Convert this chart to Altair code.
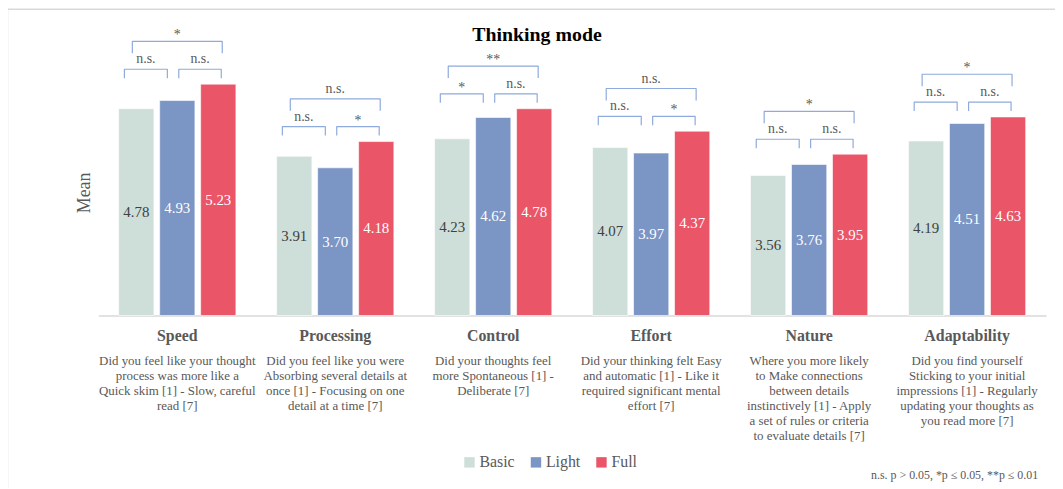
import altair as alt
import pandas as pd

# ---------------- data ----------------
categories = ["Speed", "Processing", "Control", "Effort", "Nature", "Adaptability"]
descriptions = [
    "Did you feel like your thought\nprocess was more like a\nQuick skim [1] - Slow, careful\nread [7]",
    "Did you feel like you were\nAbsorbing several details at\nonce [1] - Focusing on one\ndetail at a time [7]",
    "Did your thoughts feel\nmore Spontaneous [1] -\nDeliberate  [7]",
    "Did your thinking felt Easy\nand automatic [1] - Like it\nrequired significant mental\neffort [7]",
    "Where you more likely\nto Make connections\nbetween details\ninstinctively [1] - Apply\na set of rules or criteria\nto evaluate details [7]",
    "Did you find yourself\nSticking to your initial\nimpressions [1] - Regularly\nupdating your thoughts as\nyou read more [7]",
]
series = ["Basic", "Light", "Full"]
basic = [4.78, 3.91, 4.23, 4.07, 3.56, 4.19]
light = [4.93, 3.70, 4.62, 3.97, 3.76, 4.51]
full = [5.23, 4.18, 4.78, 4.37, 3.95, 4.63]
sig_basic_light = ["n.s.", "n.s.", "*", "n.s.", "n.s.", "n.s."]
sig_light_full = ["n.s.", "*", "n.s.", "*", "n.s.", "n.s."]
sig_basic_full = ["*", "n.s.", "**", "n.s.", "*", "*"]
title_text = "Thinking mode"
y_title = "Mean"
footnote = "n.s. p > 0.05, *p \u2264 0.05, **p \u2264 0.01"

# ---------------- style ----------------
colors = ["#CEDED8", "#7B95C5", "#EA5568"]
FONT = "Liberation Serif"
GRAY = "#595959"
BRACKET = "#8FAADC"
W, H = 955, 248
YMIN, YMAX = 1, 5.5
PPU = H / (YMAX - YMIN)          # pixels per data unit
BAND = W / len(categories)       # pixels per category
PITCH = 41.3 / BAND
HALF = 17.75 / BAND

# ---------------- tables ----------------
values = [basic, light, full]
rows = []
for s, name in enumerate(series):
    for i, c in enumerate(categories):
        v = values[s][i]
        ctr = i + (s - 1) * PITCH
        rows.append(dict(category=c, series=name, value=v, x=ctr - HALF, x2=ctr + HALF,
                         xc=ctr, mid=(v + YMIN) / 2, base=YMIN, label=f"{v:.2f}"))
bars_df = pd.DataFrame(rows)

brows, lrows = [], []
bid = 0
for i in range(len(categories)):
    top = max(basic[i], light[i], full[i])
    small = top + 15 / PPU
    big = small + 28 / PPU
    specs = [
        (0, 1, small, 9, sig_basic_light[i], -12, -10),
        (1, 2, small, 9, sig_light_full[i], 1.5, 3),
        (0, 2, big, 12, sig_basic_full[i], -4, 4),
    ]
    for a, b, lvl, tick, lab, na, nb in specs:
        xa = i + (a - 1) * PITCH + na / BAND
        xb = i + (b - 1) * PITCH + nb / BAND
        low = lvl - tick / PPU
        for k, (px, py) in enumerate([(xa, low), (xa, lvl), (xb, lvl), (xb, low)]):
            brows.append(dict(bid=bid, k=k, x=px, y=py))
        lrows.append(dict(x=(xa + xb) / 2, y=lvl, label=lab, star=lab != "n.s."))
        bid += 1
br_df = pd.DataFrame(brows)
lab_df = pd.DataFrame(lrows)

cat_df = pd.DataFrame(dict(x=list(range(len(categories))), category=categories,
                           desc=descriptions))

xscale = alt.Scale(domain=[-0.5, len(categories) - 0.5], nice=False, zero=False)
yscale = alt.Scale(domain=[YMIN, YMAX], nice=False, zero=False)

xaxis = alt.Axis(labels=False, ticks=False, grid=False, title=None,
                 domainColor="#D9D9D9", domainWidth=1.5)
yaxis = alt.Axis(labels=False, ticks=False, grid=False, domain=False,
                 title=y_title, titleFont=FONT, titleFontSize=18,
                 titleFontWeight="normal", titleColor=GRAY, titlePadding=5)

bars = alt.Chart(bars_df).mark_bar(stroke="white", strokeWidth=0.6).encode(
    x=alt.X("x:Q", scale=xscale, axis=xaxis),
    x2="x2:Q",
    y=alt.Y("value:Q", scale=yscale, axis=yaxis),
    y2="base:Q",
    color=alt.Color("series:N", scale=alt.Scale(domain=series, range=colors),
                    sort=series,
                    legend=alt.Legend(title=None, orient="none", direction="horizontal",
                                      legendX=366, legendY=388, symbolType="square",
                                      symbolSize=110, symbolStrokeWidth=0,
                                      labelFont=FONT, labelFontSize=16, labelColor=GRAY,
                                      labelOffset=2, columnPadding=13, padding=0)),
)

vlabels = alt.Chart(bars_df).mark_text(font=FONT, fontSize=15, baseline="middle").encode(
    x="xc:Q", y="mid:Q", text="label:N",
    color=alt.condition(alt.datum.series == "Basic", alt.value("#404040"), alt.value("white")),
)

blines = alt.Chart(br_df).mark_line(color=BRACKET, strokeWidth=1.2, strokeJoin="round").encode(
    x="x:Q", y="y:Q", detail="bid:N", order="k:Q")

ns_labels = alt.Chart(lab_df).transform_filter("!datum.star").mark_text(
    font=FONT, fontSize=14, color=GRAY, baseline="middle", dy=-10).encode(
    x="x:Q", y="y:Q", text="label:N")
star_labels = alt.Chart(lab_df).transform_filter("datum.star").mark_text(
    font=FONT, fontSize=14, color=GRAY, baseline="middle", dy=-6).encode(
    x="x:Q", y="y:Q", text="label:N")

cat_names = alt.Chart(cat_df).mark_text(font=FONT, fontSize=16, fontWeight="bold",
                                        color=GRAY, baseline="middle").encode(
    x="x:Q", y=alt.value(268.7), text="category:N")
cat_desc = alt.Chart(cat_df).mark_text(font=FONT, fontSize=13, color=GRAY, baseline="top",
                                       lineBreak="\n", lineHeight=15).encode(
    x="x:Q", y=alt.value(288), text="desc:N")

one = pd.DataFrame(dict(t=[title_text], f=[footnote]))
title = alt.Chart(one).mark_text(font=FONT, fontSize=20, fontWeight="bold",
                                 color="#000000", baseline="middle").encode(
    x=alt.value(442), y=alt.value(-35), text="t:N")
foot = alt.Chart(one).mark_text(font=FONT, fontSize=12, color=GRAY, align="right",
                                baseline="middle").encode(
    x=alt.value(947), y=alt.value(408.5), text="f:N")
frame = alt.Chart(one).mark_rect(filled=False, stroke="#D9D9D9", strokeWidth=1.5).encode(
    x=alt.value(-91.5), x2=alt.value(1200), y=alt.value(-60.5), y2=alt.value(700))

chart = alt.layer(frame, bars, vlabels, blines, ns_labels, star_labels, cat_names,
                  cat_desc, title, foot).properties(
    width=W, height=H,
    padding={"left": 91, "top": 60, "right": 9, "bottom": 172},
    autosize=alt.AutoSizeParams(type="none"),
).configure_view(strokeWidth=0).configure_legend(labelFont=FONT)

chart.save("out.html", embed_options={"renderer": "svg", "actions": False})
